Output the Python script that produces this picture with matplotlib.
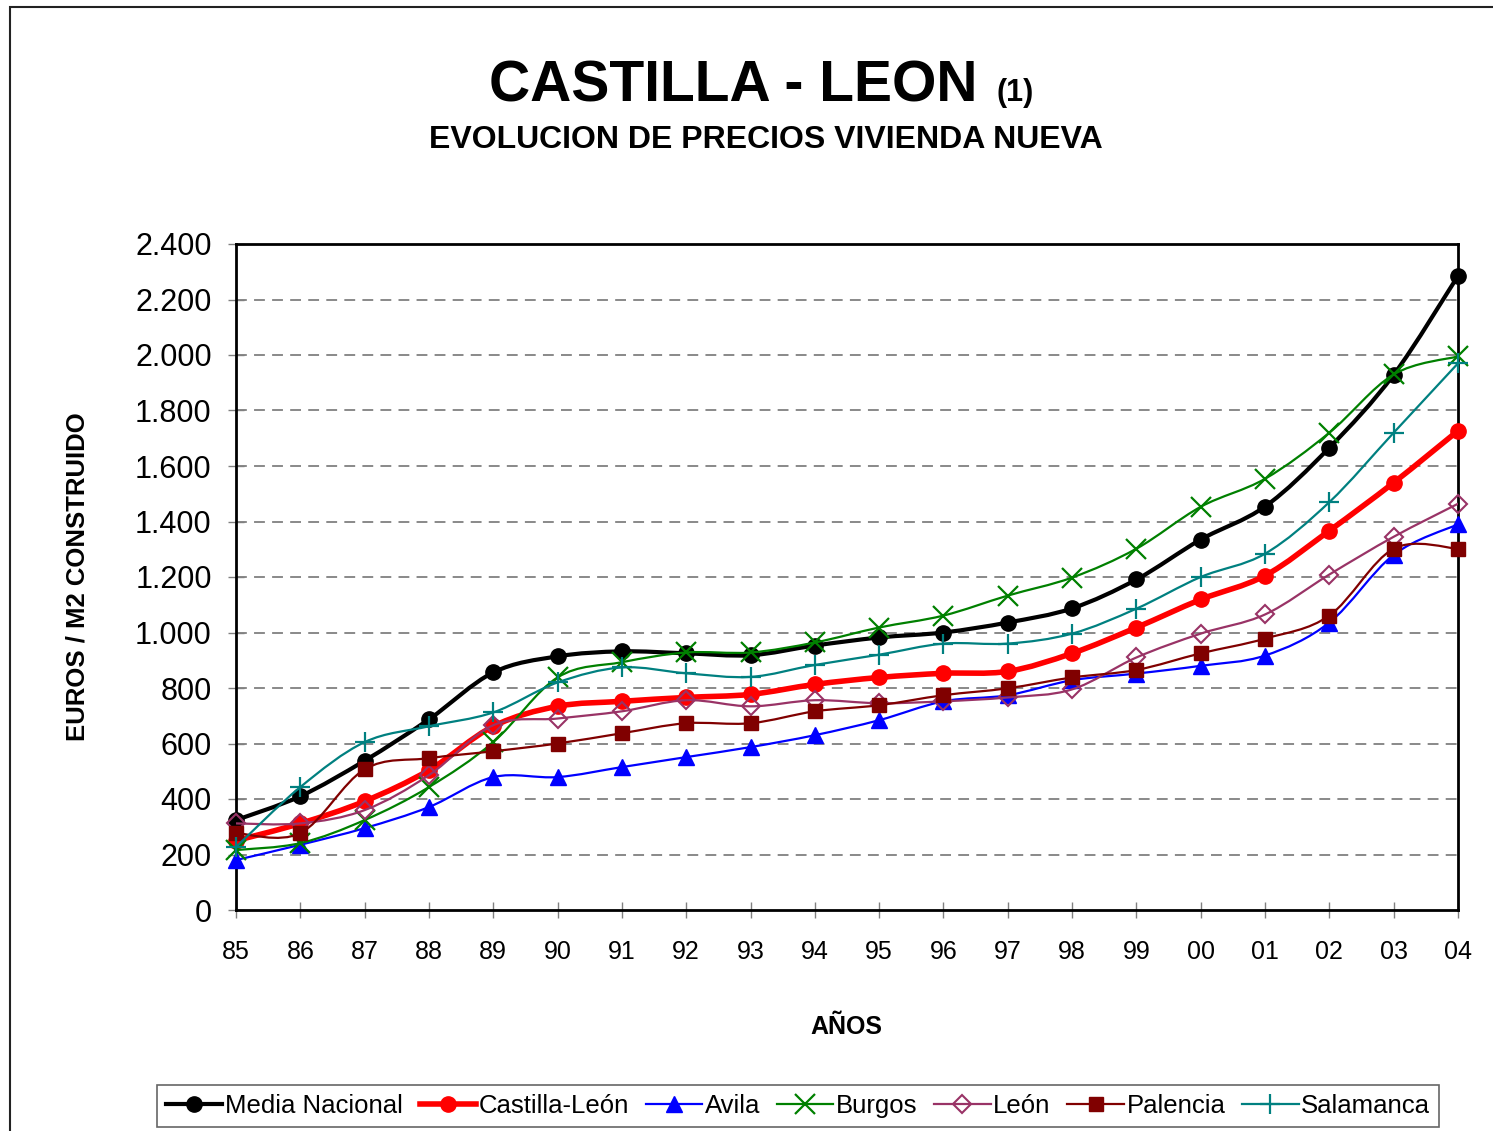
import numpy as np
import matplotlib
matplotlib.use("Agg")
import matplotlib.pyplot as plt
from matplotlib.path import Path
from matplotlib.patches import PathPatch, Rectangle
from matplotlib.lines import Line2D

plt.rcParams['font.family'] = ['Liberation Sans', 'DejaVu Sans']

# data (euros / m2)
anios = ['85', '86', '87', '88', '89', '90', '91', '92', '93', '94',
         '95', '96', '97', '98', '99', '00', '01', '02', '03', '04']
media_nacional = [324, 410, 538, 687, 856, 914, 932, 925, 918, 953,
                  982, 1000, 1036, 1087, 1191, 1335, 1454, 1666, 1929, 2285]
castilla_leon = [250, 312, 392, 504, 662, 734, 752, 766, 777, 813,
                 838, 853, 860, 925, 1018, 1119, 1205, 1367, 1540, 1727]
avila = [180, 235, 295, 371, 479, 479, 515, 551, 587, 630,
         684, 752, 774, 828, 852, 880, 917, 1036, 1280, 1390]
burgos = [216, 241, 324, 443, 605, 838, 893, 928, 928, 964,
          1018, 1061, 1133, 1198, 1302, 1453, 1554, 1720, 1930, 1995]
leon = [312, 312, 360, 486, 666, 690, 716, 756, 734, 756,
        745, 752, 766, 795, 910, 996, 1065, 1209, 1345, 1464]
palencia = [277, 277, 507, 547, 572, 600, 637, 673, 673, 716,
            738, 774, 799, 838, 865, 925, 978, 1061, 1302, 1302]
salamanca = [227, 443, 605, 662, 712, 820, 874, 853, 840, 883,
             920, 960, 960, 996, 1086, 1200, 1284, 1470, 1720, 1970]

series = [
    ('Media Nacional', media_nacional, dict(color='black', lw=3.0, marker='o', ms=11, mfc='black', mec='black', mew=1)),
    ('Castilla-León', castilla_leon, dict(color='#FF0000', lw=4.0, marker='o', ms=11, mfc='#FF0000', mec='#FF0000', mew=1)),
    ('Avila', avila, dict(color='#0000FF', lw=1.6, marker='^', ms=11, mfc='#0000FF', mec='#0000FF', mew=1)),
    ('Burgos', burgos, dict(color='#008000', lw=1.6, marker='x', ms=14, mfc='#008000', mec='#008000', mew=1.6)),
    ('León', leon, dict(color='#993366', lw=1.6, marker='D', ms=9, mfc='none', mec='#993366', mew=1.5)),
    ('Palencia', palencia, dict(color='#800000', lw=1.6, marker='s', ms=10, mfc='#800000', mec='#800000', mew=1)),
    ('Salamanca', salamanca, dict(color='#008080', lw=1.6, marker='+', ms=15, mfc='#008080', mec='#008080', mew=1.6)),
]


def smooth_path(xs, ys):
    # excel style smoothed line: cubic bezier through the points
    pts = np.column_stack([xs, ys]).astype(float)
    n = len(pts)
    verts = [pts[0]]
    codes = [Path.MOVETO]
    for i in range(n - 1):
        p0 = pts[i - 1] if i > 0 else pts[i]
        p1 = pts[i]
        p2 = pts[i + 1]
        p3 = pts[i + 2] if i + 2 < n else pts[i + 1]
        c1 = p1 + (p2 - p0) / 6.0
        c2 = p2 - (p3 - p1) / 6.0
        verts += [c1, c2, p2]
        codes += [Path.CURVE4] * 3
    return Path(verts, codes)


fig = plt.figure(figsize=(14.93, 11.31), dpi=100)
ax = fig.add_axes([236 / 1493, 1 - 910 / 1131, (1458 - 236) / 1493, (910 - 244) / 1131])

# outer chart border
fig.patches.append(Rectangle((10 / 1493, -0.05), 1.2, 1 - 7 / 1131 + 0.05,
                             transform=fig.transFigure, fill=False,
                             edgecolor='#222222', lw=1.5, zorder=0))

x = np.arange(len(anios))
handles = []
z = 3
for name, vals, st in series:
    patch = PathPatch(smooth_path(x, vals), facecolor='none', edgecolor=st['color'],
                      lw=st['lw'], zorder=z, capstyle='round', joinstyle='round')
    ax.add_patch(patch)
    ax.plot(x, vals, ls='none', marker=st['marker'], ms=st['ms'], mfc=st['mfc'],
            mec=st['mec'], mew=st['mew'], zorder=z + 0.5, clip_on=False)
    handles.append(Line2D([], [], color=st['color'], lw=st['lw'], marker=st['marker'],
                          ms=st['ms'], mfc=st['mfc'], mec=st['mec'], mew=st['mew']))
    z += 1

ax.set_xlim(0, len(anios) - 1)
ax.set_ylim(0, 2400)
ax.set_xticks(x)
ax.set_xticklabels(anios)
yt = np.arange(0, 2401, 200)
ax.set_yticks(yt)
ax.set_yticklabels([f'{v:,}'.replace(',', '.') for v in yt])
ax.tick_params(axis='both', direction='inout', length=11, width=1, color='#808080')
ax.tick_params(axis='y', labelsize=22, pad=12)
ax.tick_params(axis='x', labelsize=18, pad=16)
for s in ax.spines.values():
    s.set_linewidth(2)
    s.set_color('black')
for v in yt[1:-1]:
    ax.axhline(v, color='#808080', lw=1.3, ls=(0, (6, 4)), zorder=1)

ax.set_ylabel('EUROS / M2 CONSTRUIDO', fontsize=18.5, fontweight='bold')
ax.yaxis.set_label_coords(-(236 - 90) / 1222, 0.5)
fig.text(846 / 1493, 1 - 1027 / 1131, 'AÑOS', fontsize=18, fontweight='bold',
         ha='center', va='center')

fig.text(733 / 1493, 1 - 101 / 1131, 'CASTILLA - LEON', fontsize=41, fontweight='bold',
         ha='center', va='baseline')
fig.text(997 / 1493, 1 - 101 / 1131, '(1)', fontsize=22, fontweight='bold',
         ha='left', va='baseline')
fig.text(766 / 1493, 1 - 148 / 1131, 'EVOLUCION DE PRECIOS VIVIENDA NUEVA', fontsize=23,
         fontweight='bold', ha='center', va='baseline')

leg = fig.legend(handles, [s[0] for s in series], loc='center',
                 bbox_to_anchor=(798 / 1493, 1 - 1106 / 1131), ncol=7, fontsize=18.5,
                 frameon=True, fancybox=False, edgecolor='#404040', handlelength=2.2,
                 handletextpad=0.1, columnspacing=0.65, borderpad=0.35, borderaxespad=0)
leg.get_frame().set_linewidth(1.2)

fig.savefig('out.png', dpi=100)
